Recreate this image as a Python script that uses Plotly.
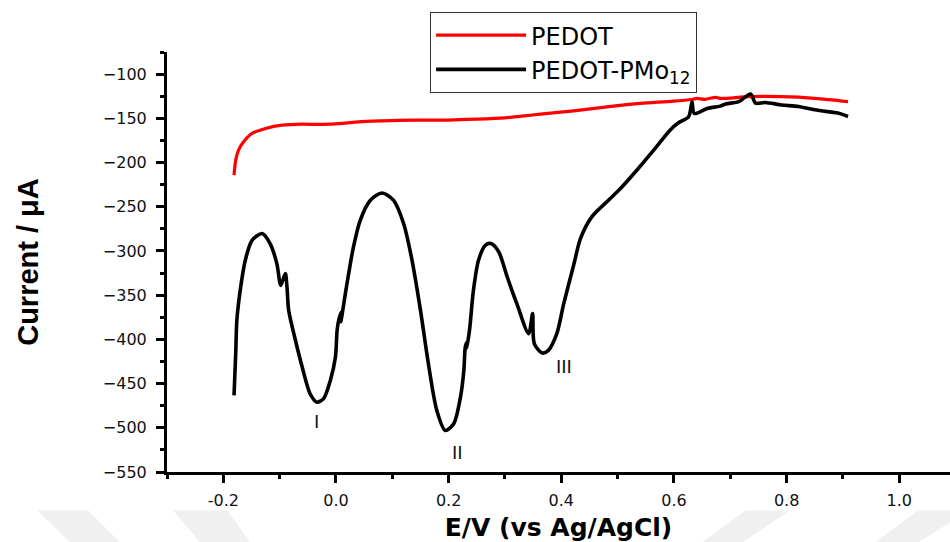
import plotly.graph_objects as go

# ---------------- data ----------------
pedot_x = [-0.181, -0.178, -0.173, -0.164, -0.149, -0.125, -0.096, -0.060, -0.025,
           0.011, 0.040, 0.082, 0.135, 0.200, 0.250, 0.300, 0.330, 0.363, 0.422,
           0.481, 0.540, 0.599, 0.633, 0.641, 0.655, 0.674, 0.682, 0.733, 0.791,
           0.850, 0.909]
pedot_y = [-214.3, -197.3, -186.0, -176.6, -167.1, -161.5, -157.7, -156.6, -156.9,
           -155.8, -154.0, -152.9, -152.1, -152.0, -151.0, -149.5, -147.5, -145.3, -141.5,
           -137.0, -133.1, -130.6, -128.4, -127.5, -128.5, -126.3, -127.5, -125.5, -125.5,
           -127.4, -131.1]

pmo_x = [-0.181, -0.178, -0.176, -0.170, -0.161, -0.149, -0.131, -0.117, -0.105,
         -0.098, -0.090, -0.087, -0.084, -0.072, -0.060, -0.046, -0.034, -0.022,
         -0.010, -0.001, 0.002, 0.0047, 0.0095, 0.0085, 0.0195, 0.031, 0.043, 0.061,
         0.0817, 0.102, 0.120, 0.135, 0.150, 0.164, 0.179, 0.194, 0.209, 0.221,
         0.227, 0.2295, 0.2325, 0.232, 0.237, 0.244, 0.253, 0.265, 0.275, 0.289,
         0.304, 0.321, 0.342, 0.349, 0.352, 0.366, 0.377, 0.392, 0.404, 0.422,
         0.434, 0.454, 0.487, 0.505, 0.534, 0.564, 0.593, 0.608, 0.626, 0.632,
         0.636, 0.659, 0.682, 0.692, 0.715, 0.736, 0.745, 0.762, 0.791, 0.821,
         0.850, 0.879, 0.891, 0.909]
pmo_y = [-463.4, -416.0, -378.5, -344.5, -310.5, -288.0, -280.3, -291.7, -314.3,
         -338.9, -325.6, -340.8, -367.0, -401.0, -431.3, -461.5, -471.0, -467.0,
         -446.4, -420.0, -389.8, -378.5, -369.0, -380.0, -337.0, -295.5, -265.3, -242.6,
         -234.4, -242.6, -269.0, -310.6, -367.2, -427.5, -480.4, -503.0, -495.4, -465.3,
         -435.0, -408.7, -403.0, -410.0, -389.8, -344.5, -310.6, -293.6, -291.7, -301.2,
         -329.5, -359.6, -393.5, -370.9, -404.8, -415.5, -412.4, -393.5, -360.4, -315.7,
         -286.0, -261.5, -240.7, -229.4, -208.7, -186.0, -163.4, -155.1, -148.3, -131.3,
         -144.5, -138.8, -136.2, -133.7, -131.1, -122.5, -132.9, -132.1, -134.9, -136.7,
         -140.4, -143.0, -144.1, -147.9]

peak_labels = ["I", "II", "III"]
peak_x = [-0.035, 0.215, 0.404]
peak_y = [-493.4, -528.5, -431.1]

x_ticks = [-0.2, 0.0, 0.2, 0.4, 0.6, 0.8, 1.0]
x_ticktext = ["-0.2", "0.0", "0.2", "0.4", "0.6", "0.8", "1.0"]
y_ticks = [-550, -500, -450, -400, -350, -300, -250, -200, -150, -100]

# ---------------- figure ----------------
fig = go.Figure()
fig.add_trace(go.Scatter(x=pedot_x, y=pedot_y, mode="lines", name="PEDOT",
                         line=dict(color="#ff0000", width=3.2, shape="spline", smoothing=0.8)))
fig.add_trace(go.Scatter(x=pmo_x, y=pmo_y, mode="lines", name="PEDOT-PMo<sub>12</sub>",
                         line=dict(color="#000000", width=3.6, shape="spline", smoothing=0.8)))

for t, xx, yy in zip(peak_labels, peak_x, peak_y):
    fig.add_annotation(x=xx, y=yy, text=t, showarrow=False,
                       font=dict(family="DejaVu Sans", size=18, color="#111"))

# faint watermark chevrons below the axis (decoration, paper coords)
L, R, T, B = 166.7, 950.0, 52.0, 471.5
def px(xp, yp):
    return (xp - L) / (R - L), (B - yp) / (B - T)
wm_polys = [
    [(37, 510), (88, 510), (120, 542), (70, 542)],
    [(173, 510), (227, 510), (250, 542), (200, 542)],
    [(745, 510), (790, 510), (742, 542), (702, 542)],
    [(918, 510), (950, 510), (950, 522), (918, 542), (875, 542)],
]
for poly in wm_polys:
    pts = [px(a, b) for a, b in poly]
    path = "M " + " L ".join(f"{p[0]:.4f},{p[1]:.4f}" for p in pts) + " Z"
    fig.add_shape(type="path", path=path, xref="paper", yref="paper",
                  fillcolor="#f0f0f0", line=dict(width=0), layer="below")

fig.update_layout(
    width=950, height=542,
    margin=dict(l=167, r=0, t=52, b=70),
    plot_bgcolor="white", paper_bgcolor="white",
    font=dict(family="DejaVu Sans", color="#000"),
    showlegend=True,
    legend=dict(x=0.336, y=1.095, xanchor="left", yanchor="top",
                bordercolor="#333", borderwidth=1, bgcolor="rgba(255,255,255,0)",
                font=dict(family="DejaVu Sans", size=24, color="#000"),
                itemwidth=90, tracegroupgap=0),
)

fig.update_xaxes(
    range=[-0.3, 1.09], showgrid=False, zeroline=False,
    showline=True, linecolor="#000", linewidth=3,
    tickmode="array", tickvals=x_ticks, ticktext=x_ticktext,
    ticks="outside", ticklen=8, tickwidth=3, tickcolor="#000",
    minor=dict(dtick=0.1, tick0=-0.3, ticks="outside", ticklen=4, tickwidth=3, tickcolor="#000"),
    tickfont=dict(family="DejaVu Sans", size=16, color="#111"),
    ticklabelstandoff=4,
    title=dict(text="<b>E/V (vs Ag/AgCl)</b>", standoff=14,
               font=dict(family="DejaVu Sans", size=25, color="#000")),
)
fig.update_yaxes(
    range=[-550, -75], showgrid=False, zeroline=False,
    showline=True, linecolor="#000", linewidth=3,
    tickmode="array", tickvals=y_ticks,
    ticks="outside", ticklen=8, tickwidth=3, tickcolor="#000",
    minor=dict(dtick=25, tick0=-550, ticks="outside", ticklen=4, tickwidth=3, tickcolor="#000"),
    tickfont=dict(family="DejaVu Sans", size=16, color="#111"),
    ticklabelstandoff=6,
    title=dict(text="<b>Current / μA</b>", standoff=56,
               font=dict(family="Liberation Sans, Arial, sans-serif", size=29, color="#000")),
)

fig.write_html("out.html")
